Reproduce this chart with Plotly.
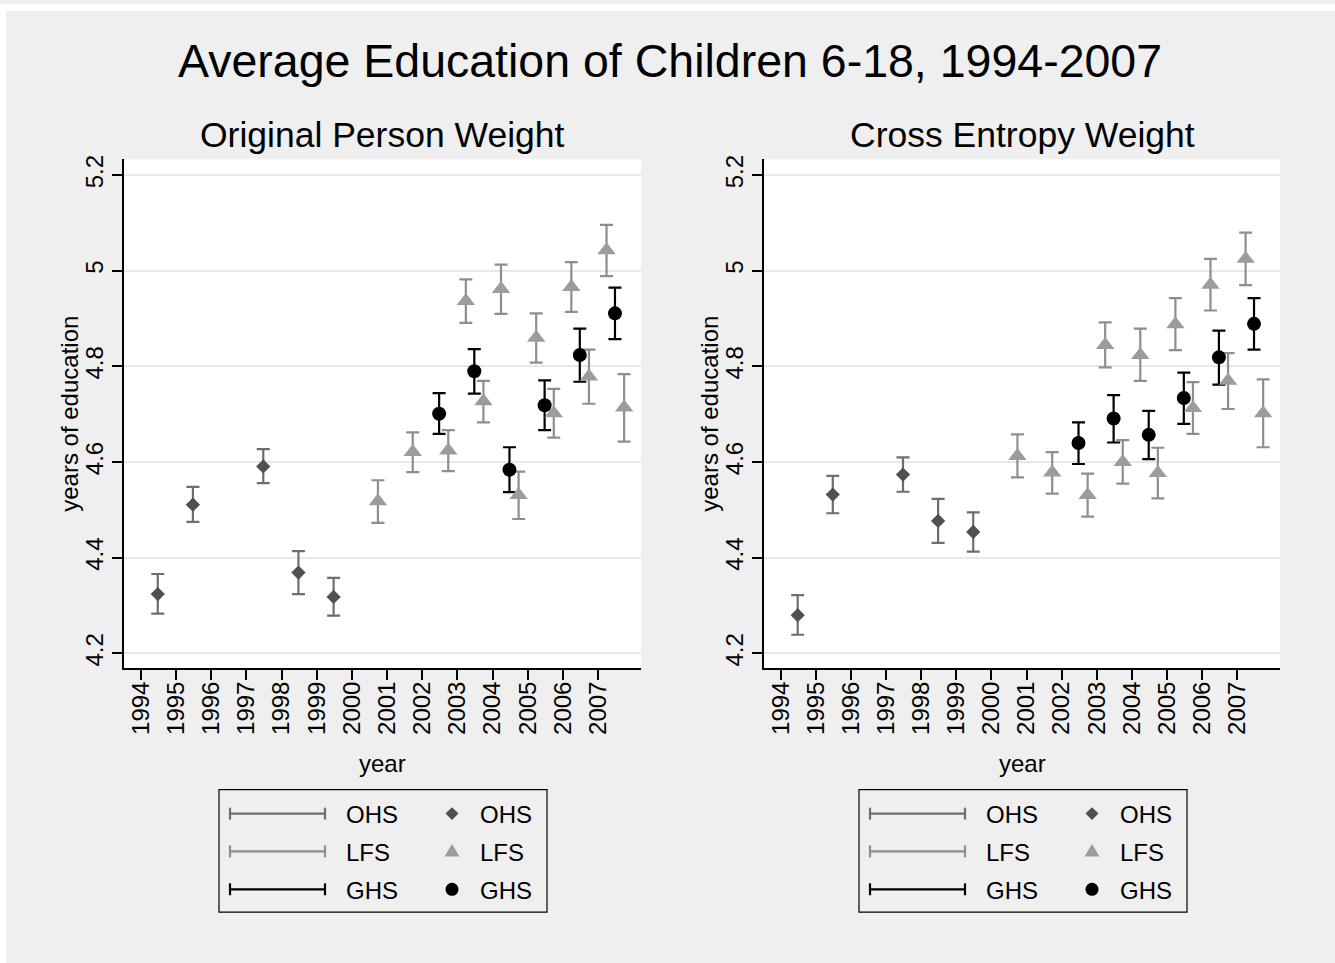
import plotly.graph_objects as go

# ---------------- data ----------------
years = list(range(1994, 2008))
year_labels = [str(y) for y in years]

# survey timing (fraction of year)
ohs_t = [1994.48, 1995.48, 1997.48, 1998.48, 1999.48]
lfs_t = [2000.74, 2001.73, 2002.74, 2003.24, 2003.74, 2004.24, 2004.74,
         2005.24, 2005.74, 2006.24, 2006.74, 2007.24, 2007.74]
ghs_t = [2002.48, 2003.48, 2004.48, 2005.48, 2006.48, 2007.48]

# Original person weight
ohs_mean_o = [4.324, 4.511, 4.591, 4.369, 4.318]
ohs_lo_o = [4.283, 4.475, 4.556, 4.324, 4.279]
ohs_hi_o = [4.366, 4.548, 4.627, 4.414, 4.358]

lfs_mean_o = [4.518, 4.621, 4.624, 4.937, 4.727, 4.962, 4.531, 4.860, 4.702,
              4.966, 4.779, 5.043, 4.714]
lfs_lo_o = [4.473, 4.579, 4.581, 4.891, 4.683, 4.910, 4.481, 4.808, 4.651,
            4.914, 4.722, 4.989, 4.643]
lfs_hi_o = [4.562, 4.662, 4.667, 4.982, 4.770, 5.013, 4.580, 4.911, 4.753,
            5.018, 4.835, 5.096, 4.784]

ghs_mean_o = [4.701, 4.790, 4.584, 4.719, 4.824, 4.911]
ghs_lo_o = [4.659, 4.743, 4.537, 4.667, 4.768, 4.857]
ghs_hi_o = [4.744, 4.836, 4.631, 4.771, 4.879, 4.965]

# Cross entropy weight
ohs_mean_c = [4.280, 4.532, 4.574, 4.477, 4.454]
ohs_lo_c = [4.239, 4.493, 4.538, 4.431, 4.413]
ohs_hi_c = [4.322, 4.571, 4.610, 4.523, 4.495]

lfs_mean_c = [4.613, 4.578, 4.531, 4.845, 4.600, 4.824, 4.577, 4.888, 4.713,
              4.971, 4.770, 5.025, 4.702]
lfs_lo_c = [4.568, 4.534, 4.486, 4.798, 4.555, 4.770, 4.524, 4.834, 4.659,
            4.917, 4.711, 4.970, 4.631]
lfs_hi_c = [4.658, 4.621, 4.576, 4.892, 4.646, 4.879, 4.630, 4.943, 4.767,
            5.025, 4.828, 5.080, 4.773]

ghs_mean_c = [4.640, 4.691, 4.657, 4.734, 4.819, 4.889]
ghs_lo_c = [4.596, 4.641, 4.606, 4.680, 4.762, 4.835]
ghs_hi_c = [4.683, 4.740, 4.707, 4.787, 4.875, 4.943]

y_ticks = [4.2, 4.4, 4.6, 4.8, 5.0, 5.2]
y_tick_labels = ["4.2", "4.4", "4.6", "4.8", "5", "5.2"]

series_names = ["OHS", "LFS", "GHS"]

# ---------------- style ----------------
W, H = 1335, 963
BG = "#efefef"
FONT = "Liberation Sans, Arial, Helvetica, sans-serif"
ci_colors = {"OHS": "#6e6e6e", "LFS": "#8e8e8e", "GHS": "#000000"}
mk_colors = {"OHS": "#505050", "LFS": "#9c9c9c", "GHS": "#000000"}
mk_symbols = {"OHS": "diamond", "LFS": "triangle-up", "GHS": "circle"}
mk_sizes = {"OHS": 11, "LFS": 16, "GHS": 14}


def px(x):
    return x / W


def py(y):
    return 1 - y / H


fig = go.Figure()

panels = [
    dict(xa="x", ya="y",
         data={"OHS": (ohs_t, ohs_mean_o, ohs_lo_o, ohs_hi_o),
               "LFS": (lfs_t, lfs_mean_o, lfs_lo_o, lfs_hi_o),
               "GHS": (ghs_t, ghs_mean_o, ghs_lo_o, ghs_hi_o)}),
    dict(xa="x2", ya="y2",
         data={"OHS": (ohs_t, ohs_mean_c, ohs_lo_c, ohs_hi_c),
               "LFS": (lfs_t, lfs_mean_c, lfs_lo_c, lfs_hi_c),
               "GHS": (ghs_t, ghs_mean_c, ghs_lo_c, ghs_hi_c)}),
]

for p in panels:
    # confidence interval caps first
    for s in series_names:
        t, m, lo, hi = p["data"][s]
        fig.add_trace(go.Scatter(
            x=t, y=m, mode="markers", xaxis=p["xa"], yaxis=p["ya"],
            marker=dict(size=1, color="rgba(0,0,0,0)"),
            error_y=dict(type="data", symmetric=False,
                         array=[h - v for h, v in zip(hi, m)],
                         arrayminus=[v - l for v, l in zip(m, lo)],
                         color=ci_colors[s], thickness=2.2, width=6.5),
            showlegend=False, hoverinfo="skip"))
    # then markers
    for s in series_names:
        t, m, lo, hi = p["data"][s]
        fig.add_trace(go.Scatter(
            x=t, y=m, mode="markers", xaxis=p["xa"], yaxis=p["ya"],
            marker=dict(symbol=mk_symbols[s], size=mk_sizes[s],
                        color=mk_colors[s], line=dict(width=0)),
            name=s, showlegend=False))

# panel geometry (pixels)
left_x0, left_x1 = 124, 641
right_x0, right_x1 = 764, 1280
plot_y0, plot_y1 = 156, 667

axis_common = dict(showline=True, linecolor="black", linewidth=1.5,
                   ticks="outside", ticklen=10, tickwidth=1.5,
                   tickcolor="black", zeroline=False,
                   tickfont=dict(family=FONT, size=24, color="black"),
                   mirror=False)

xcommon = dict(axis_common, range=[1993.52, 2008.22], tickmode="array",
               tickvals=years, ticktext=year_labels, tickangle=-90,
               showgrid=False, ticklabelstandoff=-8)
ycommon = dict(axis_common, range=[4.169, 5.233], tickmode="array",
               tickvals=y_ticks, ticktext=y_tick_labels, tickangle=-90,
               showgrid=True, gridcolor="#e8e8e8", gridwidth=2)

fig.update_layout(
    width=W, height=H,
    margin=dict(l=0, r=0, t=0, b=0),
    paper_bgcolor=BG, plot_bgcolor="white",
    font=dict(family=FONT, color="black"),
    showlegend=False,
    xaxis=dict(xcommon, domain=[px(left_x0), px(left_x1)], anchor="y"),
    yaxis=dict(ycommon, domain=[py(plot_y1), py(plot_y0)], anchor="x"),
    xaxis2=dict(xcommon, domain=[px(right_x0), px(right_x1)], anchor="y2"),
    yaxis2=dict(ycommon, domain=[py(plot_y1), py(plot_y0)], anchor="x2"),
)

shapes = []
annotations = []

# white page strips (top and left)
shapes.append(dict(type="rect", xref="paper", yref="paper", x0=0, x1=1,
                   y0=py(7), y1=1, fillcolor="white", line=dict(width=0),
                   layer="below"))
shapes.append(dict(type="rect", xref="paper", yref="paper", x0=0, x1=px(6),
                   y0=0, y1=1, fillcolor="white", line=dict(width=0),
                   layer="below"))


def ann(text, x, y, size, angle=0, xanchor="center", yanchor="middle"):
    annotations.append(dict(text=text, x=px(x), y=py(y), xref="paper",
                            yref="paper", showarrow=False, textangle=angle,
                            xanchor=xanchor, yanchor=yanchor,
                            font=dict(family=FONT, size=size, color="black")))


ann("Average Education of Children 6-18, 1994-2007", 670, 57, 46.5)

subtitles = ["Original Person Weight", "Cross Entropy Weight"]
for (x0, x1), sub in zip([(left_x0, left_x1), (right_x0, right_x1)], subtitles):
    cx = (x0 + x1) / 2
    ann(sub, cx, 132, 35.5)
    ann("year", cx, 763, 24)
    ann("years of education", x0 - 54, (plot_y0 + plot_y1) / 2, 24, angle=-90)

# custom legends
row_y = [813, 851, 889]
for off in [0, 640]:
    bx0, bx1, by0, by1 = 219 + off, 547 + off, 789, 912
    shapes.append(dict(type="rect", xref="paper", yref="paper",
                       x0=px(bx0), x1=px(bx1), y0=py(by1), y1=py(by0),
                       line=dict(color="black", width=1.2),
                       fillcolor="rgba(0,0,0,0)"))
    for s, ry in zip(series_names, row_y):
        c = ci_colors[s]
        lx0, lx1 = 230 + off, 325 + off
        shapes.append(dict(type="line", xref="paper", yref="paper",
                           x0=px(lx0), x1=px(lx1), y0=py(ry), y1=py(ry),
                           line=dict(color=c, width=2.2)))
        for cxp in (lx0, lx1):
            shapes.append(dict(type="line", xref="paper", yref="paper",
                               x0=px(cxp), x1=px(cxp), y0=py(ry - 6),
                               y1=py(ry + 6), line=dict(color=c, width=2.2)))
        ann(s, 344 + off, ry + 1, 24, xanchor="left")
        # marker symbol
        mx = 452 + off
        mc = mk_colors[s]
        if s == "OHS":
            r = 6.5
            path = "M {} {} L {} {} L {} {} L {} {} Z".format(
                px(mx - r), py(ry), px(mx), py(ry - r), px(mx + r), py(ry),
                px(mx), py(ry + r))
            shapes.append(dict(type="path", xref="paper", yref="paper",
                               path=path, fillcolor=mc, line=dict(width=0)))
        elif s == "LFS":
            path = "M {} {} L {} {} L {} {} Z".format(
                px(mx - 7.5), py(ry + 5), px(mx + 7.5), py(ry + 5),
                px(mx), py(ry - 7.5))
            shapes.append(dict(type="path", xref="paper", yref="paper",
                               path=path, fillcolor=mc, line=dict(width=0)))
        else:
            r = 6.5
            shapes.append(dict(type="circle", xref="paper", yref="paper",
                               x0=px(mx - r), x1=px(mx + r), y0=py(ry + r),
                               y1=py(ry - r), fillcolor=mc,
                               line=dict(width=0)))
        ann(s, 478 + off, ry + 1, 24, xanchor="left")

fig.update_layout(shapes=shapes, annotations=annotations)

fig.write_html(
    "out.html",
    config={"displayModeBar": False},
    post_script="document.body.style.margin='0';"
                "document.body.style.overflow='hidden';",
)
